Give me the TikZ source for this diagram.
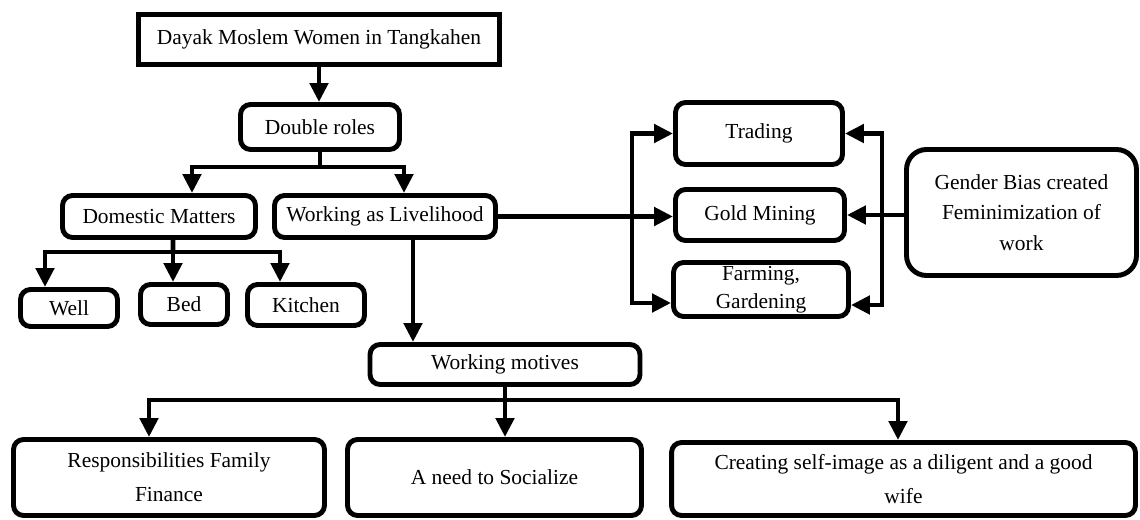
\documentclass[tikz,border=0pt]{standalone}
\usepackage{fontspec}
\setmainfont{Liberation Serif}
\usetikzlibrary{arrows.meta,calc}
\begin{document}
\begin{tikzpicture}[x=0.02cm,y=-0.02cm,
 font=\fontsize{12.2}{16}\selectfont,
 box/.style={draw,line width=2.8pt,rounded corners=0.2cm,align=center,inner sep=0pt},
 ln/.style={line width=2.8pt},
 arr/.style={line width=2.8pt,-{Triangle[length=0.38cm,width=0.36cm]}}]
\useasboundingbox (0,0) rectangle (1140,520);
% nodes
\node[box,sharp corners,line width=3.2pt,minimum width=7.22cm,minimum height=1.0cm] (top) at (319,39.5) {Dayak Moslem Women in Tangkahen};
\node[box,minimum width=3.18cm,minimum height=0.9cm] (double) at (320,127) {Double roles};
\node[box,minimum width=3.86cm,minimum height=0.84cm] (dom) at (159,216.5) {Domestic Matters};
\node[box,minimum width=4.42cm,minimum height=0.84cm] (work) at (385,216.5) {Working as Livelihood};
\node[box,minimum width=1.94cm,minimum height=0.74cm] (well) at (69,308) {Well};
\node[box,minimum width=1.74cm,minimum height=0.8cm] (bed) at (184,304.5) {Bed};
\node[box,minimum width=2.34cm,minimum height=0.82cm] (kit) at (306,305) {Kitchen};
\node[box,minimum width=5.4cm,minimum height=0.8cm] (mot) at (505,364.5) {Working motives};
\node[box,minimum width=6.22cm,minimum height=1.52cm] (resp) at (169,477.5) {Responsibilities Family\\[0.12cm]Finance};
\node[box,minimum width=5.88cm,minimum height=1.52cm] (need) at (494.5,477.5) {A need to Socialize};
\node[box,minimum width=9.28cm,minimum height=1.46cm] (crea) at (903.5,479) {Creating self-image as a diligent and a good\\[0.12cm]wife};
\node[box,minimum width=3.34cm,minimum height=1.24cm] (trad) at (759,133.5) {Trading};
\node[box,minimum width=3.38cm,minimum height=1.02cm] (gold) at (760,215) {Gold Mining};
\node[box,minimum width=3.5cm,minimum height=1.08cm] (farm) at (761,289.5) {Farming,\\Gardening};
\node[box,rounded corners=0.4cm,minimum width=4.6cm,minimum height=2.52cm] (gen) at (1021.5,212.5) {Gender Bias created\\[0.05cm]Feminimization of\\[0.05cm]work};
% junctions
\coordinate (j1) at (320,167);
\coordinate (j2) at (173,252);
\coordinate (j3) at (505,400);
\coordinate (j4) at (632,216);
\coordinate (j5) at (882,216);
\coordinate (w1) at ([xshift=0.56cm]work.south);
% connectors
\draw[arr] (top.south) -- (top.south |- double.north);
\draw[ln] (double.south) -- (j1);
\draw[arr] (j1) -| ([xshift=0.66cm]dom.north);
\draw[arr] (j1) -| ([xshift=0.38cm]work.north);
\draw[ln] ([xshift=0.28cm]dom.south) -- (j2);
\draw[arr] (j2) -| ([xshift=-0.48cm]well.north);
\draw[arr] (j2) -- (j2 |- bed.north);
\draw[arr] (j2) -| ([xshift=-0.52cm]kit.north);
\draw[arr] (w1) -- (w1 |- mot.north);
\draw[ln] (mot.south) -- (j3);
\draw[arr] (j3) -| ([xshift=-0.4cm]resp.north);
\draw[arr] (j3) -- (j3 |- need.north);
\draw[arr] (j3) -| ([xshift=-0.11cm]crea.north);
\draw[arr] (work.east) -- (work.east -| gold.west);
\draw[arr] (j4) |- (trad.west);
\draw[arr] (j4) |- ([yshift=-0.27cm]farm.west);
\draw[arr] (gen.west |- gold.east) -- (gold.east);
\draw[arr] (j5) |- (trad.east);
\draw[arr] (j5) |- ([yshift=-0.31cm]farm.east);
\end{tikzpicture}
\end{document}
